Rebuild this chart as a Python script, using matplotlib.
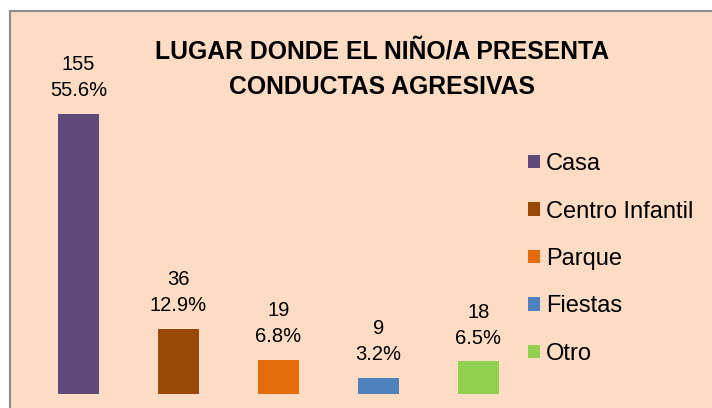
import matplotlib
matplotlib.use('Agg')
import matplotlib.pyplot as plt
from matplotlib.patches import Rectangle

# data
categories = ['Casa', 'Centro Infantil', 'Parque', 'Fiestas', 'Otro']
counts = [155, 36, 19, 9, 18]
percents = ['55.6%', '12.9%', '6.8%', '3.2%', '6.5%']
colors = ['#604A7B', '#984807', '#E46C0A', '#4F81BD', '#92D050']

plt.rcParams['font.family'] = ['Liberation Sans', 'DejaVu Sans']

fig = plt.figure(figsize=(7.12, 4.08), dpi=100, facecolor='white')

# chart area background with grey border (only top/left edges visible)
W, H = 712, 408
bg = Rectangle((9.5 / W, -0.05), 1.2, (H - 10.5) / H + 0.05,
               transform=fig.transFigure, facecolor='#FDDCC5',
               edgecolor='#8C8C8C', linewidth=1.5, zorder=-1)
fig.patches.append(bg)

ax = fig.add_axes([28.5 / W, 14 / H, 500 / W, 307 / H])
ax.set_facecolor('none')
ax.set_xlim(-0.5, 4.5)
ax.set_ylim(0, 170)
ax.axis('off')

x = range(len(categories))
bars = ax.bar(x, counts, width=0.41, color=colors, label=categories)

for rect, n, p in zip(bars, counts, percents):
    ax.annotate(f'{n}\n{p}', (rect.get_x() + rect.get_width() / 2, rect.get_height()),
                xytext=(0, 10), textcoords='offset points', ha='center', va='bottom',
                fontsize=14.5, linespacing=1.45)

fig.text(382 / W, 1 - 69.5 / H, 'LUGAR DONDE EL NIÑO/A PRESENTA\nCONDUCTAS AGRESIVAS',
         ha='center', va='center', fontsize=17.8, fontweight='bold', linespacing=1.6)

leg = fig.legend(handles=list(bars), labels=categories, loc='center left',
                 bbox_to_anchor=(507 / W, 1 - 259 / H), frameon=False, fontsize=17,
                 handlelength=0.5, handleheight=0.5, handletextpad=0.25,
                 labelspacing=1.08)

fig.savefig('out.png', dpi=100, facecolor=fig.get_facecolor())
